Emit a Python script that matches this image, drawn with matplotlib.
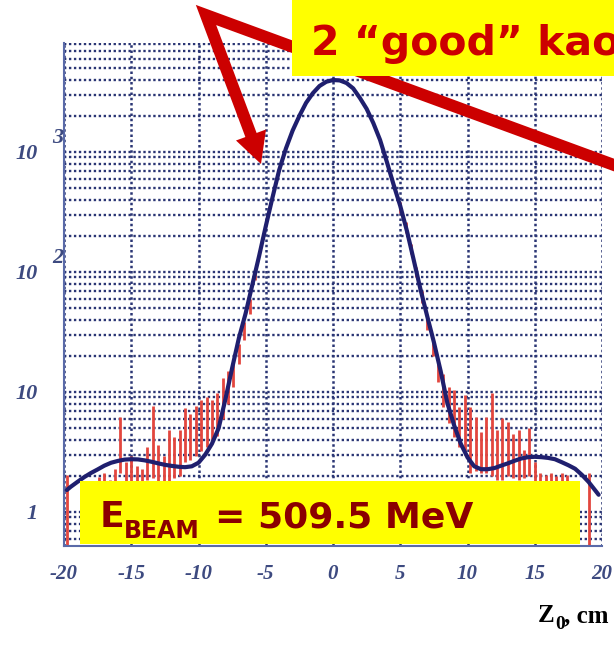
import matplotlib
matplotlib.use("Agg")
import matplotlib.pyplot as plt
from matplotlib.lines import Line2D
from matplotlib.patches import Polygon, Rectangle
from matplotlib.ticker import LogLocator, NullFormatter

### fit curve
curve_x = [-19.8, -19.5, -19, -18.5, -18, -17.5, -17, -16.5, -16, -15.5, -15, -14.5,
           -14, -13.5, -13, -12.5, -12, -11.5, -11, -10.5, -10, -9.5, -9, -8.5, -8,
           -7.5, -7, -6.5, -6, -5.5, -5, -4.5, -4, -3.5, -3, -2.5, -2, -1.5, -1, -0.5,
           0, 0.5, 1, 1.5, 2, 2.5, 3, 3.5, 4, 4.5, 5, 5.5, 6, 6.5, 7, 7.5, 8, 8.5, 9,
           9.5, 10, 10.5, 11, 11.5, 12, 12.5, 13, 13.5, 14, 14.5, 15, 15.5, 16, 16.5,
           17, 17.5, 18, 18.5, 19, 19.5, 19.75]
curve_y = [1.52, 1.62, 1.78, 1.95, 2.11, 2.26, 2.43, 2.57, 2.66, 2.73, 2.75, 2.74,
           2.69, 2.62, 2.54, 2.47, 2.42, 2.38, 2.36, 2.40, 2.57, 3.0, 3.7, 5.0, 8.7,
           15.8, 28, 45, 78, 135, 240, 417, 708, 1070, 1510, 2000, 2570, 3090, 3550, 3850,
           3980, 3950, 3760, 3390, 2820, 2290, 1740, 1260, 830, 537, 355, 219, 126, 72,
           43, 26, 15, 8.1, 5.3, 3.7, 2.85, 2.4, 2.27, 2.27, 2.32, 2.43, 2.54, 2.67,
           2.79, 2.86, 2.88, 2.86, 2.82, 2.75, 2.6, 2.45, 2.29, 2.04, 1.78, 1.51, 1.39]

### histogram error bars (visible ones)
bar_x = [-19.8, -17.4, -17.0, -16.6, -16.2, -15.8, -15.4, -15.0, -14.6, -14.2, -13.8,
         -13.4, -13.0, -12.6, -12.2, -11.8, -11.4, -11.0, -10.6, -10.2, -9.8, -9.4,
         -9.0, -8.6, -8.2, -7.8, -7.4, -7.0, -6.6, -6.2, -5.8,
         5.0, 5.4, 5.8, 6.2, 6.6, 7.0, 7.4, 7.8, 8.2, 8.6, 9.0, 9.4, 9.8, 10.2, 10.6,
         11.0, 11.4, 11.8, 12.2, 12.6, 13.0, 13.4, 13.8, 14.2, 14.6, 15.0, 15.4, 15.8,
         16.2, 16.6, 17.0, 17.4, 17.8, 18.2, 19.0]
bar_lo = [0.3, 1.4, 1.5, 1.4, 1.5, 2.1, 1.6, 1.7, 1.5, 1.5, 1.85,
          1.9, 1.8, 1.6, 1.8, 1.9, 2.0, 2.6, 2.7, 2.9, 3.2, 3.5,
          3.8, 4.3, 6.0, 8.0, 11, 17, 27, 45, 85,
          310, 210, 140, 90, 55, 33, 20, 12, 7.5, 5.5, 4.2, 3.5, 3.0, 2.1, 2.2,
          2.1, 2.1, 2.0, 1.85, 1.85, 2.0, 1.9, 1.85, 1.9, 2.0, 1.5, 1.5, 1.5,
          1.5, 1.4, 1.4, 1.5, 1.3, 1.2, 0.3]
bar_hi = [2.05, 1.95, 2.1, 1.85, 2.3, 6.2, 2.6, 2.9, 2.4, 2.3, 3.5,
          7.6, 3.6, 2.9, 4.8, 4.2, 4.8, 7.3, 6.6, 7.7, 8.6, 9.1,
          8.6, 9.8, 13, 15, 19, 25, 38, 60, 105,
          380, 260, 170, 110, 70, 42, 27, 17, 14, 11, 10.4, 7.5, 9.5, 7.5, 6.2,
          4.6, 6.2, 9.8, 4.8, 6.1, 5.6, 4.5, 4.8, 3.3, 5.0, 2.6, 2.1, 2.05,
          2.1, 2.0, 2.1, 2.05, 1.7, 1.7, 2.1]

xtick_vals = [-20, -15, -10, -5, 0, 5, 10, 15, 20]
xtick_labels = ['-20', '-15', '-10', '-5', '0', '5', '10', '15', '20']
ytick_vals = [1, 10, 100, 1000]
ytick_labels = ['1', '10', '10', '10']
ytick_sups = [(100, '2'), (1000, '3')]

W, H = 614, 645
def fx(px):
    return px / W
def fy(py):
    return 1 - py / H

fig = plt.figure(figsize=(W / 100, H / 100), dpi=100)
ax = fig.add_axes([fx(64), fy(546), (602 - 64) / W, (546 - 43) / H])

gridcol = '#2a3574'
dots = (0, (1, 1.1))

ax.set_yscale('log')
ax.set_xlim(-20, 20)
ax.set_ylim(0.52, 8100)

ax.yaxis.set_minor_locator(LogLocator(base=10, subs=[2, 3, 4, 5, 6, 7, 8, 9], numticks=20))
ax.yaxis.set_minor_formatter(NullFormatter())
ax.grid(True, which='both', axis='y', color=gridcol, linestyle=dots, linewidth=1.7)
ax.grid(True, which='major', axis='x', color=gridcol, linestyle=dots, linewidth=1.8)
ax.set_axisbelow(True)

ax.vlines(bar_x, bar_lo, bar_hi, colors='#e2463e', linewidth=2.0, zorder=2)
ax.plot(curve_x, curve_y, color='#1f1f6e', linewidth=3.0, solid_capstyle='round', zorder=3)

### axes look
for s in ['top', 'right']:
    ax.spines[s].set_visible(False)
for s in ['left', 'bottom']:
    ax.spines[s].set_color('#5a6aa8')
    ax.spines[s].set_linewidth(1.5)

tickfont = dict(family='Liberation Serif', weight='bold', style='italic')
labcol = '#3d4a80'
ax.set_xticks(xtick_vals)
ax.set_xticklabels(xtick_labels, fontsize=15, color=labcol, **tickfont)
ax.set_yticks(ytick_vals)
ax.set_yticklabels(ytick_labels, fontsize=16, color=labcol, **tickfont)
ax.tick_params(axis='both', which='both', length=0)
ax.tick_params(axis='x', pad=13)
ax.tick_params(axis='y', pad=19)
for v, s in ytick_sups:
    ax.text(-0.022, v * 1.32, s, transform=ax.get_yaxis_transform(), ha='left', va='center',
            fontsize=16, color=labcol, **tickfont)

### x label
serif = dict(family='Liberation Serif', weight='bold', color='black')
fig.text(fx(538), fy(622), 'Z', fontsize=18, va='baseline', ha='left', **serif)
fig.text(fx(555), fy(629), '0', fontsize=14, va='baseline', ha='left', **serif)
fig.text(fx(564), fy(622), ', cm', fontsize=18, va='baseline', ha='left', **serif)

### red arrows
red = '#cc0000'
apex = (206, 15)
base = (251, 135)
fig.add_artist(Line2D([fx(720), fx(apex[0]), fx(base[0])], [fy(204), fy(apex[1]), fy(base[1])],
                      transform=fig.transFigure, color=red, linewidth=8.6,
                      solid_joinstyle='miter', zorder=5))
fig.add_artist(Polygon([(fx(261), fy(164)), (fx(236), fy(140.5)), (fx(266), fy(129.5))],
                       closed=True, transform=fig.transFigure, facecolor=red,
                       edgecolor='none', zorder=5))

### yellow boxes
fig.add_artist(Rectangle((fx(292), fy(76)), 1 - fx(292), 76 / H, transform=fig.transFigure,
                         facecolor='#ffff00', edgecolor='none', zorder=6))
fig.text(fx(311), fy(55), '2 \u201cgood\u201d kaons', fontsize=29.5, color=red,
         family='DejaVu Sans', weight='bold', va='baseline', ha='left', zorder=7)

fig.add_artist(Rectangle((fx(80), fy(544)), (580 - 80) / W, (544 - 481) / H,
                         transform=fig.transFigure, facecolor='#ffff00', edgecolor='none', zorder=6))
dred = '#8b0000'
sans = dict(family='DejaVu Sans', weight='bold', color=dred, va='baseline', ha='left', zorder=7)
fig.text(fx(100), fy(527), 'E', fontsize=26, **sans)
fig.text(fx(124), fy(538), 'BEAM', fontsize=17, **sans)
fig.text(fx(215), fy(527), '= 509.5 MeV', fontsize=26, **sans)

fig.savefig('out.png', dpi=100)
